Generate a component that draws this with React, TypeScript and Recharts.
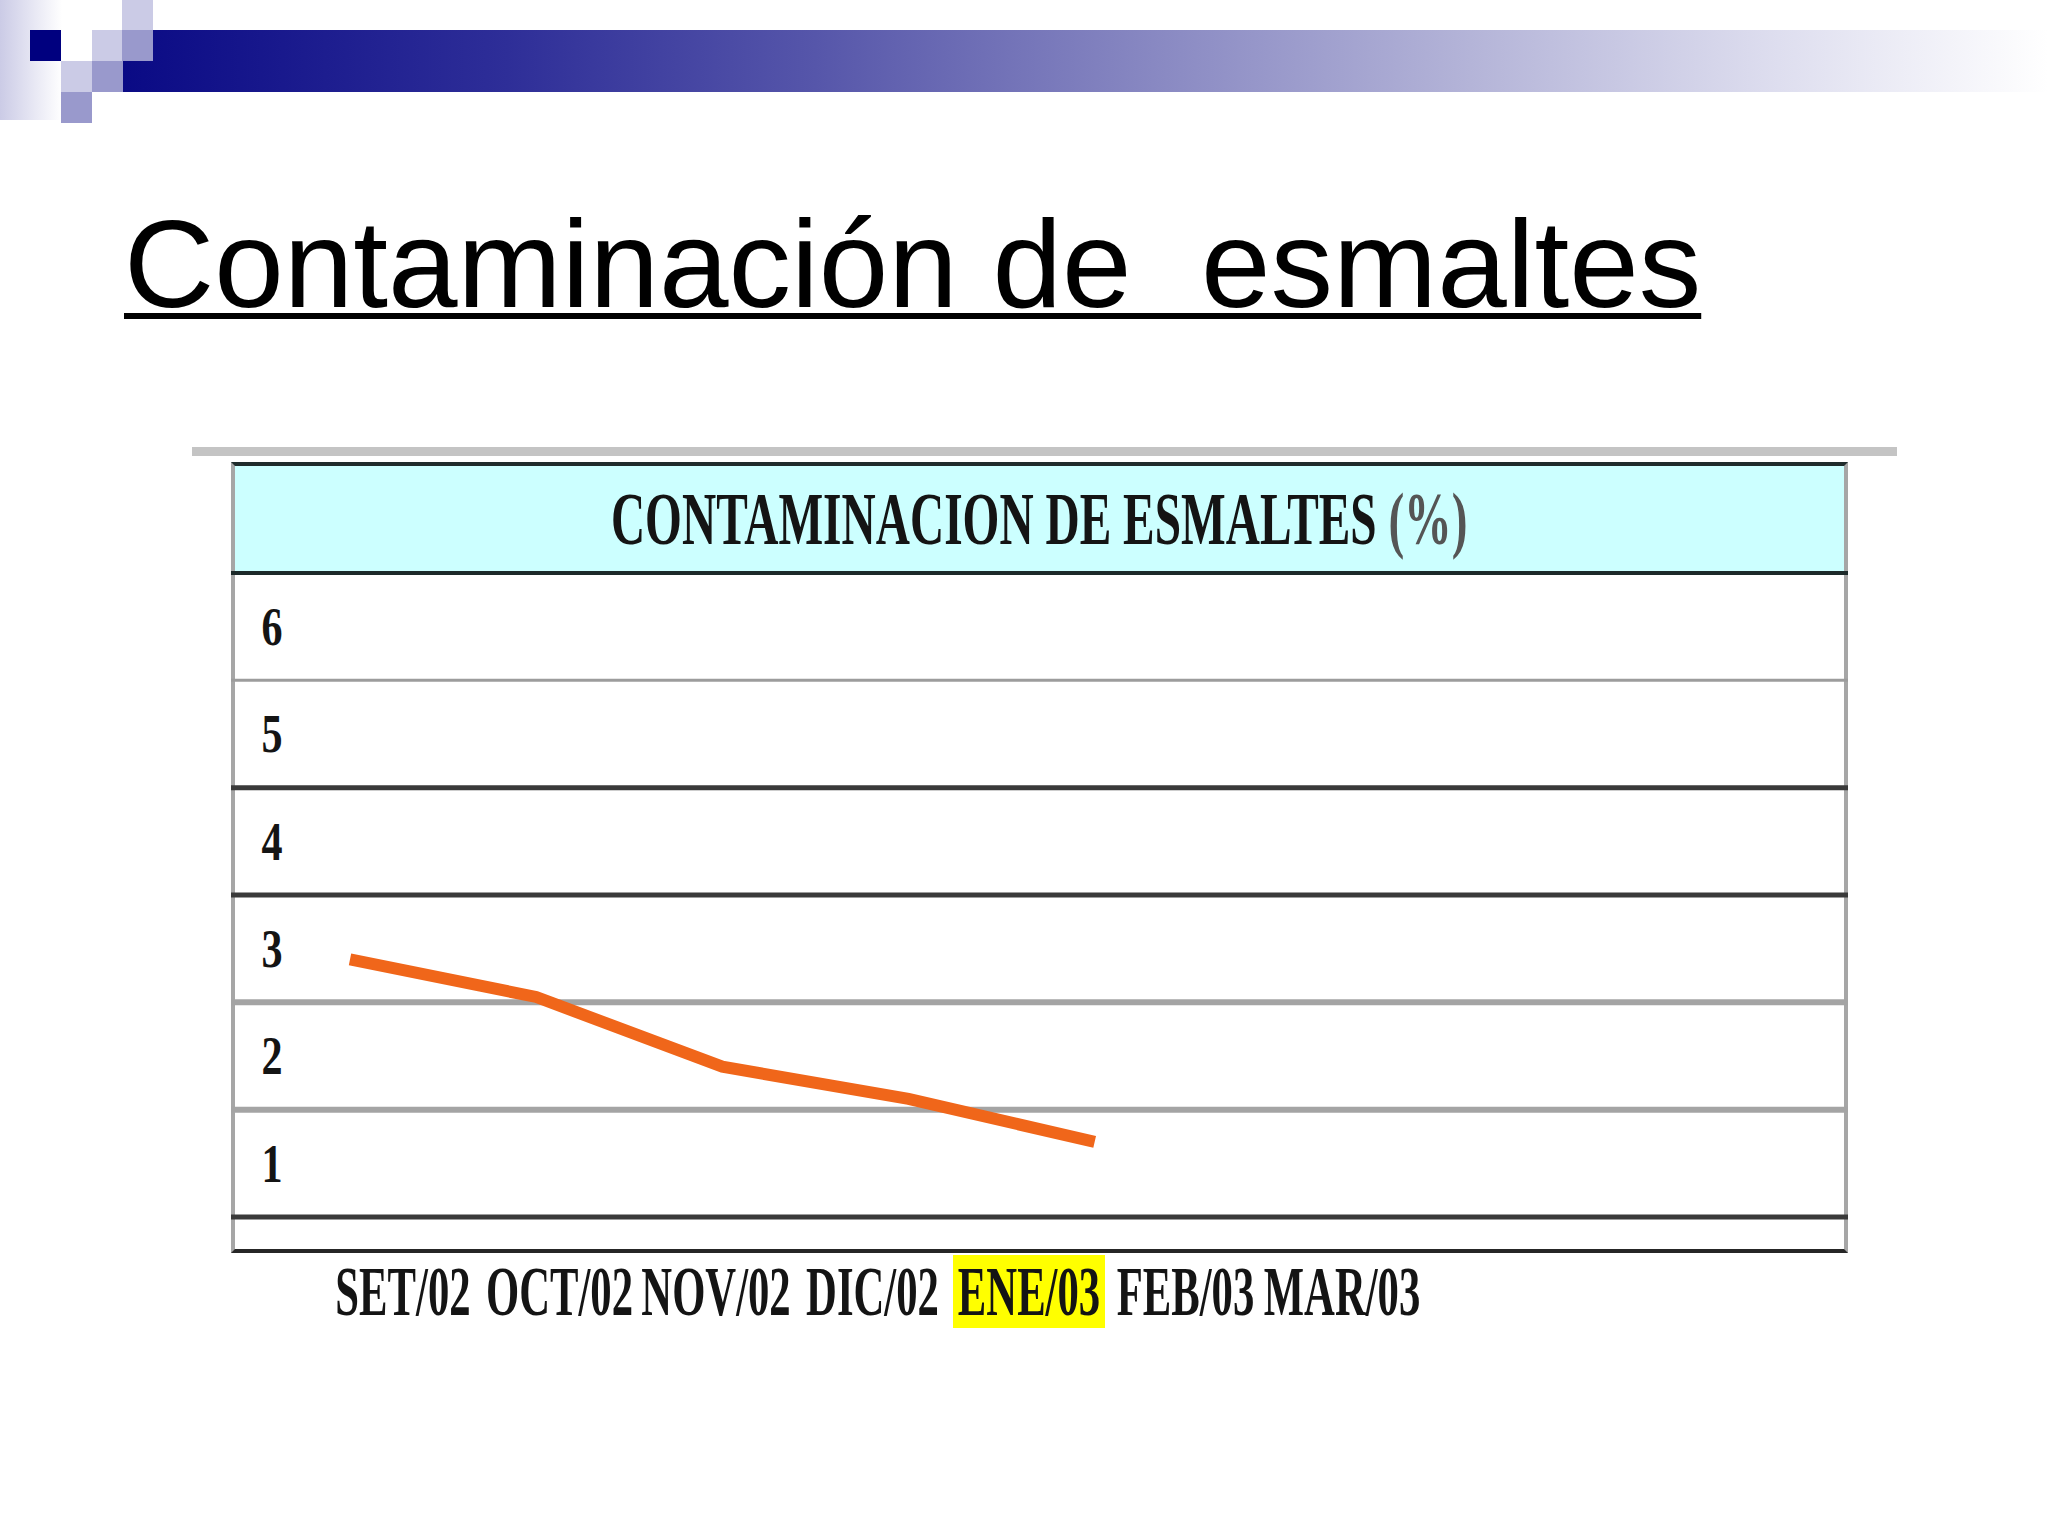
import { LineChart, Line, XAxis, YAxis, ReferenceLine } from "recharts";

const months = ["SET/02", "OCT/02", "NOV/02", "DIC/02", "ENE/03", "FEB/03", "MAR/03"];
const contamination: (number | null)[] = [2.9, 2.55, 1.9, 1.6, 1.2, null, null];
const yTicks = [1, 2, 3, 4, 5, 6];
const highlightMonth = "ENE/03";

// row separators of the original table, top to bottom
const gridLevels = [6.5, 5.5, 4.5, 3.5, 2.5, 1.5, 0.5];
const gridTones = ["top", "light", "dark", "dark", "gray", "gray", "dark"];

const toneStyle: Record<string, { stroke: string; width: number }> = {
  top: { stroke: "#1c2a2a", width: 4 },
  light: { stroke: "#9c9c9c", width: 3 },
  dark: { stroke: "#3a3a3a", width: 5 },
  gray: { stroke: "#a4a4a4", width: 6 },
};

const rows = months.map((m, i) => ({ month: m, value: contamination[i] }));

const serif = "'Liberation Serif', 'Times New Roman', serif";

function MonthTick(props: any) {
  const { x, y, payload } = props;
  const hl = payload.value === highlightMonth;
  return (
    <g transform={`translate(${x},${y})`}>
      {hl && <rect x={-76} y={38} width={152} height={73} fill="#ffff00" />}
      <text
        x={0}
        y={98}
        textAnchor="middle"
        transform="scale(0.61,1)"
        fontFamily={serif}
        fontWeight="bold"
        fontSize={70}
        fill="#141414"
      >
        {payload.value}
      </text>
    </g>
  );
}

function ValueTick(props: any) {
  const { y, payload } = props;
  return (
    <g transform={`translate(41,${y}) scale(0.78,1)`}>
      <text x={0} y={0} dy="0.34em" textAnchor="middle" fontFamily={serif} fontWeight="bold" fontSize={54} fill="#141414">
        {payload.value}
      </text>
    </g>
  );
}

const pale = "#cbcbe6";
const mid = "#9999cc";
const navy = "#00007f";

const squares = [
  { x: 30, y: 30, c: navy },
  { x: 122, y: 0, c: pale },
  { x: 92, y: 30, c: pale },
  { x: 61, y: 61, c: pale },
  { x: 122, y: 30, c: mid },
  { x: 92, y: 61, c: mid },
  { x: 61, y: 92, c: mid },
];

export default function App() {
  return (
    <div style={{ position: "absolute", left: 0, top: 0, width: 2048, height: 1536, background: "#fff", overflow: "hidden" }}>
      {/* header decoration */}
      <div style={{ position: "absolute", left: 0, top: 0, width: 62, height: 120, background: `linear-gradient(to right, ${pale}, #ffffff)` }} />
      <div
        style={{
          position: "absolute",
          left: 122,
          top: 30,
          width: 1926,
          height: 62,
          background:
            "linear-gradient(to right, #0a0a85 0%, #2e2e98 20%, #5656aa 36%, #8484c0 52%, #b4b4d8 70%, #dedeef 86%, #ffffff 100%)",
        }}
      />
      {squares.map((s, i) => (
        <div key={i} style={{ position: "absolute", left: s.x, top: s.y, width: 31, height: 31, background: s.c }} />
      ))}

      <div
        style={{
          position: "absolute",
          left: 124,
          top: 201,
          fontFamily: "'Liberation Sans', Arial, sans-serif",
          fontSize: 125,
          lineHeight: 1,
          whiteSpace: "pre",
          color: "#000",
          textDecoration: "underline",
          textDecorationThickness: 6,
          textUnderlineOffset: 6,
        }}
      >
        Contaminación de  esmaltes
      </div>

      {/* table frame */}
      <div style={{ position: "absolute", left: 192, top: 447, width: 1705, height: 9, background: "#c4c4c4" }} />
      <div
        style={{
          position: "absolute",
          left: 231,
          top: 462,
          width: 1617,
          height: 791,
          boxSizing: "border-box",
          borderLeft: "4px solid #a6a6a6",
          borderRight: "4px solid #a6a6a6",
          borderTop: "4px solid #1f2b2b",
          borderBottom: "4px solid #262626",
        }}
      />
      <div
        style={{
          position: "absolute",
          left: 235,
          top: 466,
          width: 1609,
          height: 106,
          background: "#ccffff",
          display: "flex",
          alignItems: "center",
          justifyContent: "center",
        }}
      >
        <span
          style={{
            display: "inline-block",
            transform: "scaleX(0.64)",
            fontFamily: serif,
            fontWeight: "bold",
            fontSize: 74,
            lineHeight: 1,
            whiteSpace: "nowrap",
            color: "#141414",
          }}
        >
          CONTAMINACION DE ESMALTES <span style={{ color: "#555" }}>(%)</span>
        </span>
      </div>

      <div style={{ position: "absolute", left: 231, top: 565 }}>
        <LineChart width={1617} height={780} data={rows} margin={{ top: 8, right: 0, bottom: 0, left: 0 }}>
          <XAxis
            xAxisId="labels"
            dataKey="month"
            type="category"
            height={128}
            padding={{ left: 172, right: 506 }}
            axisLine={false}
            tickLine={false}
            tickSize={0}
            tickMargin={0}
            interval={0}
            tick={MonthTick}
          />
          <XAxis xAxisId="pts" dataKey="month" type="category" hide padding={{ left: 119, right: 381 }} />
          <YAxis
            domain={[0.5, 6.5]}
            ticks={yTicks}
            width={60}
            mirror
            axisLine={false}
            tickLine={false}
            tickSize={0}
            tickMargin={0}
            interval={0}
            tick={ValueTick}
          />
          {gridLevels.map((lvl, i) => (
            <ReferenceLine
              key={lvl}
              xAxisId="labels"
              y={lvl}
              stroke={toneStyle[gridTones[i]].stroke}
              strokeWidth={toneStyle[gridTones[i]].width}
            />
          ))}
          <Line
            xAxisId="pts"
            type="linear"
            dataKey="value"
            stroke="#f0661a"
            strokeWidth={12}
            dot={false}
            isAnimationActive={false}
          />
        </LineChart>
      </div>
    </div>
  );
}
